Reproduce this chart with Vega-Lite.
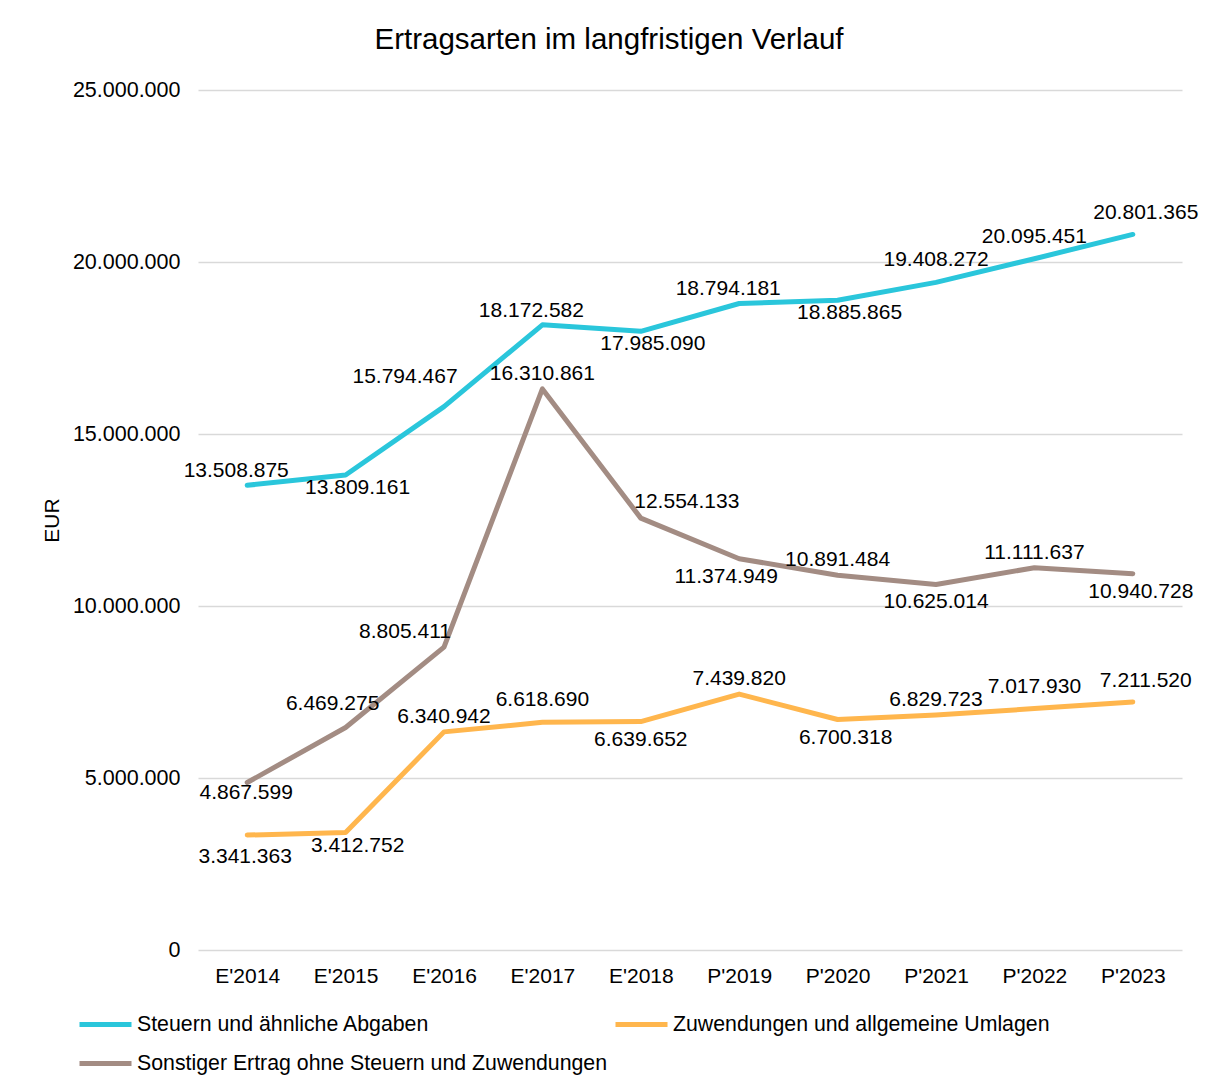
{
  "$schema": "https://vega.github.io/schema/vega-lite/v6.json",
  "autosize": "none",
  "width": 984,
  "height": 860,
  "padding": {"left": 198, "top": 90, "right": 28, "bottom": 139},
  "background": "white",
  "title": {
    "text": "Ertragsarten im langfristigen Verlauf",
    "fontSize": 29.5,
    "font": "Liberation Sans",
    "fontWeight": "normal",
    "color": "#000000",
    "anchor": "middle",
    "baseline": "alphabetic",
    "offset": 1,
    "dx": -81
  },
  "config": {
    "locale": {"number": {"decimal": ",", "thousands": ".", "grouping": [3], "currency": ["", " €"]}},
    "view": {"stroke": null},
    "font": "Liberation Sans",
    "axis": {"labelFont": "Liberation Sans", "titleFont": "Liberation Sans", "labelColor": "#000000", "titleColor": "#000000"}
  },
  "data": {
    "values": [
      {"serie": "Steuern und ähnliche Abgaben", "jahr": "E'2014", "wert": 13508875, "id": "S14"},
      {"serie": "Steuern und ähnliche Abgaben", "jahr": "E'2015", "wert": 13809161, "id": "S15"},
      {"serie": "Steuern und ähnliche Abgaben", "jahr": "E'2016", "wert": 15794467, "id": "S16"},
      {"serie": "Steuern und ähnliche Abgaben", "jahr": "E'2017", "wert": 18172582, "id": "S17"},
      {"serie": "Steuern und ähnliche Abgaben", "jahr": "E'2018", "wert": 17985090, "id": "S18"},
      {"serie": "Steuern und ähnliche Abgaben", "jahr": "P'2019", "wert": 18794181, "id": "S19"},
      {"serie": "Steuern und ähnliche Abgaben", "jahr": "P'2020", "wert": 18885865, "id": "S20"},
      {"serie": "Steuern und ähnliche Abgaben", "jahr": "P'2021", "wert": 19408272, "id": "S21"},
      {"serie": "Steuern und ähnliche Abgaben", "jahr": "P'2022", "wert": 20095451, "id": "S22"},
      {"serie": "Steuern und ähnliche Abgaben", "jahr": "P'2023", "wert": 20801365, "id": "S23"},
      {"serie": "Zuwendungen und allgemeine Umlagen", "jahr": "E'2014", "wert": 3341363, "id": "Z14"},
      {"serie": "Zuwendungen und allgemeine Umlagen", "jahr": "E'2015", "wert": 3412752, "id": "Z15"},
      {"serie": "Zuwendungen und allgemeine Umlagen", "jahr": "E'2016", "wert": 6340942, "id": "Z16"},
      {"serie": "Zuwendungen und allgemeine Umlagen", "jahr": "E'2017", "wert": 6618690, "id": "Z17"},
      {"serie": "Zuwendungen und allgemeine Umlagen", "jahr": "E'2018", "wert": 6639652, "id": "Z18"},
      {"serie": "Zuwendungen und allgemeine Umlagen", "jahr": "P'2019", "wert": 7439820, "id": "Z19"},
      {"serie": "Zuwendungen und allgemeine Umlagen", "jahr": "P'2020", "wert": 6700318, "id": "Z20"},
      {"serie": "Zuwendungen und allgemeine Umlagen", "jahr": "P'2021", "wert": 6829723, "id": "Z21"},
      {"serie": "Zuwendungen und allgemeine Umlagen", "jahr": "P'2022", "wert": 7017930, "id": "Z22"},
      {"serie": "Zuwendungen und allgemeine Umlagen", "jahr": "P'2023", "wert": 7211520, "id": "Z23"},
      {"serie": "Sonstiger Ertrag ohne Steuern und Zuwendungen", "jahr": "E'2014", "wert": 4867599, "id": "O14"},
      {"serie": "Sonstiger Ertrag ohne Steuern und Zuwendungen", "jahr": "E'2015", "wert": 6469275, "id": "O15"},
      {"serie": "Sonstiger Ertrag ohne Steuern und Zuwendungen", "jahr": "E'2016", "wert": 8805411, "id": "O16"},
      {"serie": "Sonstiger Ertrag ohne Steuern und Zuwendungen", "jahr": "E'2017", "wert": 16310861, "id": "O17"},
      {"serie": "Sonstiger Ertrag ohne Steuern und Zuwendungen", "jahr": "E'2018", "wert": 12554133, "id": "O18"},
      {"serie": "Sonstiger Ertrag ohne Steuern und Zuwendungen", "jahr": "P'2019", "wert": 11374949, "id": "O19"},
      {"serie": "Sonstiger Ertrag ohne Steuern und Zuwendungen", "jahr": "P'2020", "wert": 10891484, "id": "O20"},
      {"serie": "Sonstiger Ertrag ohne Steuern und Zuwendungen", "jahr": "P'2021", "wert": 10625014, "id": "O21"},
      {"serie": "Sonstiger Ertrag ohne Steuern und Zuwendungen", "jahr": "P'2022", "wert": 11111637, "id": "O22"},
      {"serie": "Sonstiger Ertrag ohne Steuern und Zuwendungen", "jahr": "P'2023", "wert": 10940728, "id": "O23"}
    ]
  },
  "encoding": {
    "x": {
      "field": "jahr", "type": "ordinal", "sort": null,
      "scale": {"type": "point", "padding": 0.5},
      "axis": {"title": null, "labelAngle": 0, "labelFontSize": 21, "ticks": false, "domain": false, "grid": false, "labelPadding": 15}
    },
    "y": {
      "field": "wert", "type": "quantitative",
      "scale": {"domain": [0, 25000000], "nice": false},
      "axis": {
        "title": "EUR", "titleFontSize": 21, "titleFontWeight": "normal", "titleX": -146, "titleY": 430,
        "titleAngle": -90, "titleBaseline": "middle", "titleAlign": "center",
        "values": [0, 5000000, 10000000, 15000000, 20000000, 25000000],
        "format": ",d", "labelFontSize": 21.5, "labelPadding": 18,
        "ticks": false, "domain": false, "grid": true, "gridColor": "#d9d9d9", "gridWidth": 1.5
      }
    }
  },
  "layer": [
    {
      "mark": {"type": "line", "strokeWidth": 5, "strokeCap": "round", "strokeJoin": "round"},
      "encoding": {
        "color": {
          "field": "serie", "type": "nominal",
          "scale": {
            "domain": ["Steuern und ähnliche Abgaben", "Zuwendungen und allgemeine Umlagen", "Sonstiger Ertrag ohne Steuern und Zuwendungen"],
            "range": ["#2AC6DB", "#FFB64D", "#A38C83"]
          },
          "legend": {
            "title": null, "orient": "none", "legendX": -108, "legendY": 919,
            "columns": 2, "direction": "horizontal", "padding": 0,
            "symbolType": "M-2,0L2,0", "symbolSize": 676, "symbolStrokeWidth": 5,
            "labelFontSize": 21.3, "labelFont": "Liberation Sans", "labelColor": "#000000", "labelLimit": 0,
            "labelOffset": 16, "rowPadding": 13, "columnPadding": -3
          }
        }
      }
    },
    {"transform": [{"filter": {"field": "id", "oneOf": ["S14", "S17", "S19"]}}], "mark": {"type": "text", "fontSize": 21, "baseline": "middle", "dx": -11, "dy": -14}, "encoding": {"text": {"field": "wert", "type": "quantitative", "format": ",d"}}},
    {"transform": [{"filter": {"field": "id", "oneOf": ["Z16", "Z19", "O17", "Z21", "O20", "O22"]}}], "mark": {"type": "text", "fontSize": 21, "baseline": "middle", "dx": 0, "dy": -15}, "encoding": {"text": {"field": "wert", "type": "quantitative", "format": ",d"}}},
    {"transform": [{"filter": {"field": "id", "oneOf": ["S21", "S22", "Z17", "Z22"]}}], "mark": {"type": "text", "fontSize": 21, "baseline": "middle", "dx": 0, "dy": -22}, "encoding": {"text": {"field": "wert", "type": "quantitative", "format": ",d"}}},
    {"transform": [{"filter": {"field": "id", "oneOf": ["S15", "S18", "S20", "Z15"]}}], "mark": {"type": "text", "fontSize": 21, "baseline": "middle", "dx": 12, "dy": 13}, "encoding": {"text": {"field": "wert", "type": "quantitative", "format": ",d"}}},
    {"transform": [{"filter": {"field": "id", "oneOf": ["Z20", "O23"]}}], "mark": {"type": "text", "fontSize": 21, "baseline": "middle", "dx": 8, "dy": 18}, "encoding": {"text": {"field": "wert", "type": "quantitative", "format": ",d"}}},
    {"transform": [{"filter": {"field": "id", "oneOf": ["Z18", "O21"]}}], "mark": {"type": "text", "fontSize": 21, "baseline": "middle", "dx": 0, "dy": 18}, "encoding": {"text": {"field": "wert", "type": "quantitative", "format": ",d"}}},
    {"transform": [{"filter": {"field": "id", "oneOf": ["S23", "Z23"]}}], "mark": {"type": "text", "fontSize": 21, "baseline": "middle", "dx": 13, "dy": -21}, "encoding": {"text": {"field": "wert", "type": "quantitative", "format": ",d"}}},
    {"transform": [{"filter": {"field": "id", "oneOf": ["S16"]}}], "mark": {"type": "text", "fontSize": 21, "baseline": "middle", "dx": -39, "dy": -30}, "encoding": {"text": {"field": "wert", "type": "quantitative", "format": ",d"}}},
    {"transform": [{"filter": {"field": "id", "oneOf": ["O16"]}}], "mark": {"type": "text", "fontSize": 21, "baseline": "middle", "dx": -39, "dy": -15}, "encoding": {"text": {"field": "wert", "type": "quantitative", "format": ",d"}}},
    {"transform": [{"filter": {"field": "id", "oneOf": ["O18"]}}], "mark": {"type": "text", "fontSize": 21, "baseline": "middle", "dx": 46, "dy": -16}, "encoding": {"text": {"field": "wert", "type": "quantitative", "format": ",d"}}},
    {"transform": [{"filter": {"field": "id", "oneOf": ["O15"]}}], "mark": {"type": "text", "fontSize": 21, "baseline": "middle", "dx": -13, "dy": -23}, "encoding": {"text": {"field": "wert", "type": "quantitative", "format": ",d"}}},
    {"transform": [{"filter": {"field": "id", "oneOf": ["O19"]}}], "mark": {"type": "text", "fontSize": 21, "baseline": "middle", "dx": -13, "dy": 18}, "encoding": {"text": {"field": "wert", "type": "quantitative", "format": ",d"}}},
    {"transform": [{"filter": {"field": "id", "oneOf": ["Z14"]}}], "mark": {"type": "text", "fontSize": 21, "baseline": "middle", "dx": -2, "dy": 22}, "encoding": {"text": {"field": "wert", "type": "quantitative", "format": ",d"}}},
    {"transform": [{"filter": {"field": "id", "oneOf": ["O14"]}}], "mark": {"type": "text", "fontSize": 21, "baseline": "middle", "dx": -1, "dy": 10}, "encoding": {"text": {"field": "wert", "type": "quantitative", "format": ",d"}}}
  ]
}
